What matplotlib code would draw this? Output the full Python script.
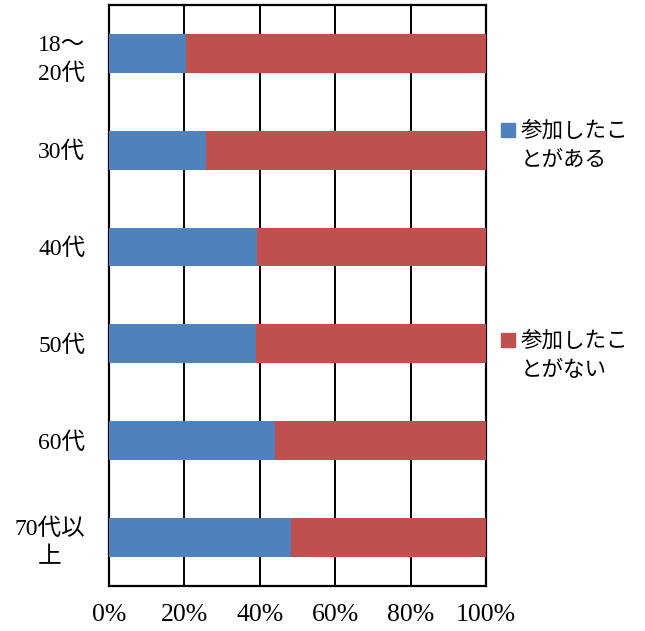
import numpy as np
import matplotlib
matplotlib.use("Agg")
import matplotlib.pyplot as plt
from matplotlib.patches import Rectangle

# data
groups = ["18～\n20代", "30代", "40代", "50代", "60代", "70代以\n上"]
joined = [20.4, 25.8, 39.3, 39.1, 44.0, 48.3]      # 参加したことがある (%)
not_joined = [100 - v for v in joined]            # 参加したことがない (%)
series_names = ["参加したこ\nとがある", "参加したこ\nとがない"]
colors = ["#4F81BD", "#C0504D"]
xticks = [0, 20, 40, 60, 80, 100]

serif = ["Liberation Serif", "Noto Sans CJK JP"]
sans = ["Noto Sans CJK JP", "DejaVu Sans"]

fig = plt.figure(figsize=(6.45, 6.31), dpi=100)
ax = fig.add_axes([0.169, 0.0713, 0.5845, 0.921])

y = np.arange(len(groups))
ax.barh(y, joined, height=0.4, color=colors[0], zorder=3)
ax.barh(y, not_joined, left=joined, height=0.4, color=colors[1], zorder=3)

ax.set_xlim(0, 100)
ax.set_ylim(len(groups) - 0.5, -0.5)
ax.set_xticks(xticks)
ax.set_xticklabels([f"{t}%" for t in xticks], family=serif, fontsize=18.5)
ax.set_yticks(y)
ax.set_yticklabels(groups, family=serif, fontsize=17)
for lab in ax.get_yticklabels():
    lab.set_multialignment("center")
    lab.set_linespacing(1.45)
ax.tick_params(axis="both", length=0)
ax.tick_params(axis="y", pad=17)
ax.tick_params(axis="x", pad=13)

ax.grid(axis="x", color="black", linewidth=1.4, zorder=0)
ax.set_axisbelow(True)
for s in ax.spines.values():
    s.set_color("black")
    s.set_linewidth(1.6)

# legend, handle aligned with the first line of each label
legend_y = [0.794, 0.461]
for name, c, ly in zip(series_names, colors, legend_y):
    fig.add_artist(Rectangle((0.777, ly - 0.011), 0.021, 0.022,
                             transform=fig.transFigure, color=c))
    fig.text(0.807, ly + 0.016, name, family=sans, fontsize=15.5,
             va="top", ha="left", linespacing=1.42)

fig.savefig("out.png", dpi=100)
